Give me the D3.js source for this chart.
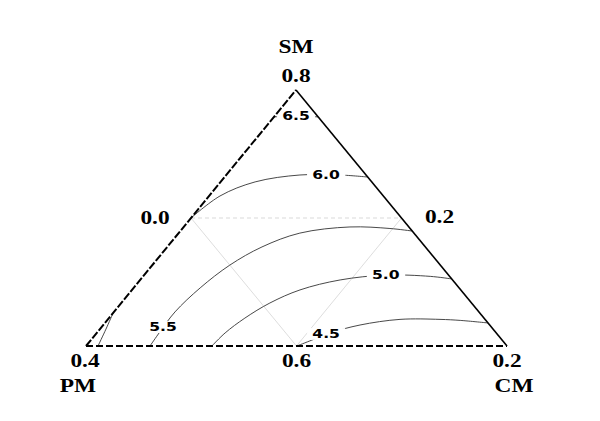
<!DOCTYPE html>
<html>
<head>
<meta charset="utf-8">
<script src="https://cdn.jsdelivr.net/npm/d3@7"></script>
<style>
  body { margin: 0; background: #fff; }
</style>
</head>
<body>
<div id="chart"></div>
<script>
// ternary points are [top share, right share]; the left share is what is left over
const cornerNames = ['SM', 'PM', 'CM']          // top, left, right
const cornerTicks = ['0.8', '0.4', '0.2']
const midTicks = ['0.0', '0.2', '0.6']          // left edge, right edge, bottom edge

const line65 = [[0.895, 0], [0.898, 0.051], [0.895, 0.105]]
const line60 = [[0.5, 0], [0.586, 0.026], [0.641, 0.082], [0.668, 0.175], [0.668, 0.27], [0.66, 0.34]]
const line60b = [[0.129, 0], [0.066, 0.0145], [0, 0.0285]]
const line55 = [[0, 0.152], [0.055, 0.148], [0.133, 0.145], [0.227, 0.158], [0.316, 0.184], [0.387, 0.225], [0.441, 0.288], [0.465, 0.395], [0.459, 0.493], [0.449, 0.551]]
const line50 = [[0, 0.299], [0.051, 0.305], [0.109, 0.323], [0.168, 0.353], [0.219, 0.399], [0.258, 0.475], [0.277, 0.574], [0.272, 0.682], [0.262, 0.738]]
const line45 = [[0, 0.501], [0.023, 0.525], [0.051, 0.554], [0.082, 0.61], [0.104, 0.694], [0.104, 0.789], [0.1, 0.839], [0.09, 0.91]]

const labelText = ['6.5', '6.0', '5.5', '5.0', '4.5']
const labelAt = [[0.898, 0.051], [0.668, 0.237], [0.074, 0.146], [0.277, 0.574], [0.047, 0.547]]

const op = {
  width: 600,
  height: 421,
  left: 86, right: 507, top: 90, bottom: 346,
  apexX: 296,
  stretch: 1.3
}

const svg = d3.select('#chart').append('svg')
  .attr('width', op.width)
  .attr('height', op.height)

let x = d3.scaleLinear().domain([0, 1]).range([op.left, op.right])
let y = d3.scaleLinear().domain([0, 1]).range([op.bottom, op.top])
let apexFrac = (op.apexX - op.left) / (op.right - op.left)
let px = d => [x(d[1] + d[0] * apexFrac), y(d[0])]

let T = px([1, 0]), L = px([0, 0]), R = px([0, 1])
let mLeft = px([0.5, 0]), mRight = px([0.5, 0.5]), mBottom = px([0, 0.5])

// inner guide triangle
let seg = (g, a, b) => g.append('line')
  .attr('x1', a[0]).attr('y1', a[1]).attr('x2', b[0]).attr('y2', b[1])
seg(svg, mLeft, mRight).attr('stroke', '#cfcfcf').attr('stroke-width', 0.8).attr('stroke-dasharray', '4,3')
seg(svg, mLeft, mBottom).attr('stroke', '#d4d4d4').attr('stroke-width', 0.8)
seg(svg, mRight, mBottom).attr('stroke', '#d4d4d4').attr('stroke-width', 0.8)

// contours
let path = d3.line().x(d => px(d)[0]).y(d => px(d)[1]).curve(d3.curveCatmullRom)
svg.append('g').selectAll('path')
  .data([line65, line60, line60b, line55, line50, line45])
  .enter().append('path')
  .attr('d', path)
  .attr('fill', 'none')
  .attr('stroke', '#333')
  .attr('stroke-width', 0.9)

// contour labels with a white patch behind them
let lab = svg.append('g').selectAll('g')
  .data(labelText)
  .enter().append('g')
  .attr('transform', (d, i) => `translate(${px(labelAt[i])[0]},${px(labelAt[i])[1]}) scale(${op.stretch},1)`)
lab.append('rect').attr('fill', '#fff')
lab.append('text').text(d => d)
  .attr('text-anchor', 'middle')
  .attr('dy', '0.36em')
  .attr('font-family', 'DejaVu Sans, sans-serif')
  .attr('font-weight', 'bold')
  .attr('font-size', '12px')
  .attr('fill', '#000')
lab.each(function () {
  let b = d3.select(this).select('text').node().getBBox()
  d3.select(this).select('rect')
    .attr('x', b.x - 4).attr('y', b.y + 1)
    .attr('width', b.width + 8).attr('height', b.height - 2)
})

// triangle edges
seg(svg, L, T).attr('stroke', '#000').attr('stroke-width', 2).attr('stroke-dasharray', '8,2')
seg(svg, L, R).attr('stroke', '#000').attr('stroke-width', 2).attr('stroke-dasharray', '7,3')
seg(svg, R, T).attr('stroke', '#000').attr('stroke-width', 1.6)

// corner and edge labels
let big = (txt, cx, cy) => svg.append('text').text(txt)
  .attr('transform', `translate(${cx},${cy}) scale(${op.stretch},1)`)
  .attr('text-anchor', 'middle')
  .attr('font-family', 'Liberation Serif, Times New Roman, serif')
  .attr('font-weight', 'bold')
  .attr('font-size', '18px')
  .attr('fill', '#000')

big(cornerNames[0], T[0], T[1] - 37)
big(cornerTicks[0], T[0], T[1] - 8)
big(cornerTicks[1], L[0] - 1, L[1] + 21)
big(cornerNames[1], L[0] - 8, L[1] + 46)
big(cornerTicks[2], R[0], R[1] + 21)
big(cornerNames[2], R[0] + 7, R[1] + 46)
big(midTicks[0], mLeft[0] - 36, mLeft[1] + 6)
big(midTicks[1], mRight[0] + 38, mRight[1] + 5)
big(midTicks[2], mBottom[0], mBottom[1] + 21)
</script>
</body>
</html>
